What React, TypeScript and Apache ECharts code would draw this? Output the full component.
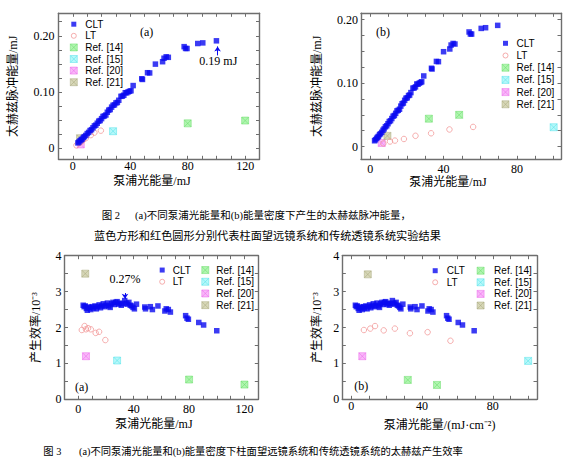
import React, { useEffect, useRef } from 'react';
import * as echarts from 'echarts';

// ---------- data ----------
// CLT: pump energy (mJ) for Fig.2(a)/3(a)
const cltEnergy = [3.5, 4.2, 5, 5.8, 6.5, 7.3, 8, 9, 10, 11, 12, 13, 14, 15, 16, 17, 18, 19, 20, 21, 22, 23, 24, 25, 26, 27, 28, 29, 30, 31, 32, 33.5, 34.5, 35.5, 36.5, 37.5, 38.5, 39.5, 40.5, 42, 48, 48.5, 52, 53.5, 57.5, 62.5, 63.5, 65, 66.5, 77.5, 78.5, 79.5, 87, 90.5, 100];
// CLT: pump energy density (mJ/cm^2) for Fig.2(b)/3(b)
const cltDensity = [2.4, 2.9, 3.5, 4.0, 4.5, 5.1, 5.6, 6.3, 7.0, 7.6, 8.3, 9.0, 9.7, 10.4, 11.1, 11.8, 12.5, 13.2, 13.9, 14.6, 15.3, 16.0, 16.7, 17.4, 18.1, 18.8, 19.5, 20.2, 20.9, 21.5, 22.2, 23.3, 24.0, 24.7, 25.4, 26.1, 26.8, 27.5, 28.1, 29.2, 33.4, 33.7, 36.1, 37.2, 40.0, 43.4, 44.1, 45.2, 46.2, 53.9, 54.6, 55.3, 60.5, 62.9, 69.5];
// CLT: THz pulse energy (mJ)
const cltTHz = [0.0092, 0.0108, 0.0130, 0.0147, 0.0161, 0.0188, 0.0204, 0.0225, 0.0258, 0.0279, 0.0312, 0.0328, 0.0361, 0.0395, 0.0408, 0.0442, 0.0479, 0.0490, 0.0524, 0.0563, 0.0572, 0.0589, 0.0638, 0.0675, 0.0686, 0.0729, 0.0762, 0.0769, 0.0804, 0.0812, 0.0851, 0.0921, 0.0925, 0.0941, 0.0986, 0.0983, 0.1001, 0.1011, 0.1021, 0.1113, 0.1234, 0.1222, 0.1342, 0.1338, 0.1495, 0.1538, 0.1600, 0.1625, 0.1616, 0.1806, 0.1774, 0.1773, 0.1862, 0.1873, 0.1910];
// CLT: efficiency (10^-3)
const cltEff = [2.62, 2.58, 2.6, 2.53, 2.48, 2.57, 2.55, 2.5, 2.58, 2.54, 2.6, 2.52, 2.58, 2.63, 2.55, 2.6, 2.66, 2.58, 2.62, 2.68, 2.6, 2.56, 2.66, 2.7, 2.64, 2.7, 2.72, 2.65, 2.68, 2.62, 2.66, 2.75, 2.68, 2.65, 2.7, 2.62, 2.6, 2.56, 2.52, 2.65, 2.57, 2.52, 2.58, 2.5, 2.6, 2.46, 2.52, 2.5, 2.43, 2.33, 2.26, 2.23, 2.14, 2.07, 1.91];

// LT
const ltEnergy = [2.5, 4.5, 5.5, 7, 9, 12.5, 15, 19.5];
const ltTHzA = [0.0048, 0.0092, 0.0107, 0.0139, 0.0176, 0.0231, 0.0275, 0.031];
const ltEffA = [1.93, 2.04, 1.95, 1.98, 1.95, 1.85, 1.88, 1.65];
const ltDensity = [7.2, 10.8, 13.5, 18.4, 24.7, 33.2, 43.2, 56.1];
const ltTHzB = [0.005, 0.008, 0.0095, 0.012, 0.017, 0.021, 0.027, 0.031];
const ltEffB = [1.93, 1.97, 2.04, 1.92, 1.97, 1.84, 1.87, 1.63];

// References
const ref14EnergyA = [80, 120];
const ref14THzA = [0.044, 0.049];
const ref14EffA = [0.55, 0.41];
const ref14DensityB = [32, 48.5];
const ref14THzB = [0.044, 0.05];
const ref14EffB = [0.54, 0.4];

const ref15EnergyA = [28];
const ref15THzA = [0.03];
const ref15EffA = [1.08];
const ref15DensityB = [100];
const ref15THzB = [0.0305];
const ref15EffB = [1.07];

const ref20EnergyA = [5.5];
const ref20THzA = [0.0065];
const ref20EffA = [1.2];
const ref20DensityB = [6.3];
const ref20THzB = [0.0058];
const ref20EffB = [1.2];

const ref21EnergyA = [5];
const ref21THzA = [0.0175];
const ref21EffA = [3.5];
const ref21DensityB = [9.4];
const ref21THzB = [0.0169];
const ref21EffB = [3.48];

// tick labels
const xTicksA = [0, 40, 80, 120];
const xTicksB = [0, 40, 80];
const yTicksEnergy = [0, 0.1, 0.2];
const yTicksEff = [0, 1, 2, 3, 4];

// ---------- styling ----------
const SERIF = "'Liberation Serif', 'Times New Roman', 'DejaVu Serif', serif";
const CJK = "'Liberation Serif', 'Noto Sans CJK SC', sans-serif";
const SANS = "'Liberation Sans', Arial, sans-serif";
const FRAME = '#6e6e6e';
const BLUE = '#0a0af0';
const PINK = '#f29a9a';

const REF_SYMBOL = 'path://M0,0H10V10H0ZM0,0L10,10M10,0L0,10';
const refStyles: Record<string, { color: string; borderColor: string }> = {
  'Ref. [14]': { color: '#9cf29c', borderColor: '#62dc62' },
  'Ref. [15]': { color: '#a4f6f9', borderColor: '#48dfe8' },
  'Ref. [20]': { color: '#f8a6f8', borderColor: '#ea5eea' },
  'Ref. [21]': { color: '#cdcda6', borderColor: '#a5a578' },
};

const pts = (xs: number[], ys: number[]) => xs.map((x, i) => [x, ys[i]]);
const near = (v: number, arr: number[]) => arr.find((a) => Math.abs(a - v) < 1e-7);

function axisPair(kind: 'x' | 'y', grid: number, o: any) {
  const common: any = {
    type: 'value',
    gridIndex: grid,
    min: o.min,
    max: o.max,
    minInterval: o.step,
    maxInterval: o.step,
    splitNumber: Math.round((o.max - o.min) / o.step),
    splitLine: { show: false },
    axisLine: { show: true, onZero: false, lineStyle: { color: FRAME, width: 1.4 } },
    axisTick: { show: true, inside: true, length: 3.5, lineStyle: { color: FRAME, width: 1 } },
  };
  const main = {
    ...common,
    position: kind === 'x' ? 'bottom' : 'left',
    name: o.name,
    nameLocation: 'middle',
    nameGap: o.nameGap,
    nameTextStyle: {
      fontFamily: CJK,
      fontSize: 12,
      color: '#000',
      padding: o.namePad || 0,
    },
    axisLabel: {
      show: true,
      margin: o.labelMargin,
      fontFamily: SERIF,
      fontSize: 12,
      color: '#000',
      formatter: (v: number) => {
        const t = near(v, o.ticks);
        if (t === undefined) return '';
        return o.fmt(t);
      },
    },
  };
  const mirror = {
    ...common,
    position: kind === 'x' ? 'top' : 'right',
    axisLabel: { show: false },
  };
  return [main, mirror];
}

const fmtInt = (v: number) => String(v);
const fmtEnergy = (v: number) => (v === 0 ? '0' : v.toFixed(2));

function seriesFor(g: number, d: any) {
  const base = { type: 'scatter', xAxisIndex: 2 * g, yAxisIndex: 2 * g };
  const refs = ['Ref. [14]', 'Ref. [15]', 'Ref. [20]', 'Ref. [21]'].map((n, i) => ({
    ...base,
    name: n,
    data: d.refs[i],
    symbol: REF_SYMBOL,
    symbolSize: 7,
    itemStyle: { ...refStyles[n], borderWidth: 0.6 },
    z: 2,
  }));
  return [
    ...refs,
    {
      ...base,
      name: 'LT',
      data: d.lt,
      symbol: 'circle',
      symbolSize: 5.5,
      itemStyle: { color: 'rgba(255,255,255,0)', borderColor: PINK, borderWidth: 1 },
      z: 3,
    },
    {
      ...base,
      name: 'CLT',
      data: d.clt,
      symbol: 'rect',
      symbolSize: 5.5,
      itemStyle: { color: BLUE },
      z: 4,
      ...(d.note
        ? {
            markLine: {
              silent: true,
              symbol: ['none', 'arrow'],
              symbolSize: 5,
              label: { show: false },
              lineStyle: { color: BLUE, width: 1, type: 'solid' },
              data: [[{ coord: d.note.from }, { coord: d.note.to }]],
            },
            markPoint: {
              silent: true,
              symbol: 'circle',
              symbolSize: 0,
              label: {
                show: true,
                position: 'inside',
                formatter: d.note.text,
                color: '#000',
                fontFamily: SERIF,
                fontSize: 12,
              },
              data: [{ coord: d.note.at }],
            },
          }
        : {}),
    },
  ];
}

const legendItems: Record<string, any> = {
  CLT: { name: 'CLT', icon: 'path://M0,0M7,7M1,1H6V6H1Z', itemStyle: { color: BLUE } },
  LT: {
    name: 'LT',
    icon: 'path://M0,0M7,7M1,3.5A2.5,2.5,0,1,0,6,3.5A2.5,2.5,0,1,0,1,3.5Z',
    itemStyle: { color: 'rgba(255,255,255,0)', borderColor: PINK, borderWidth: 1 },
  },
  ...Object.fromEntries(
    Object.keys(refStyles).map((n) => [
      n,
      { name: n, icon: 'path://M0,0H10V10H0ZM0,0L10,10M10,0L0,10', itemStyle: { ...refStyles[n], borderWidth: 0.6 } },
    ])
  ),
};

function legend(left: number, top: number, names: string[], lh: number, padLeft: number) {
  return {
    orient: 'vertical',
    left,
    top,
    padding: 0,
    itemGap: 0,
    itemWidth: 7,
    itemHeight: 7,
    selectedMode: false,
    textStyle: { fontFamily: SANS, fontSize: 10, color: '#000', lineHeight: lh, padding: [0, 0, 0, padLeft] },
    data: names.map((n) => legendItems[n]),
  };
}

const ALL = ['CLT', 'LT', 'Ref. [14]', 'Ref. [15]', 'Ref. [20]', 'Ref. [21]'];
const REFS = ['Ref. [14]', 'Ref. [15]', 'Ref. [20]', 'Ref. [21]'];

function buildOption() {
  const grids = [
    { left: 58.5, top: 13.3, width: 201, height: 146 },
    { left: 361, top: 13.3, width: 200, height: 146 },
    { left: 64.5, top: 255.7, width: 193.8, height: 143.6 },
    { left: 342.3, top: 255.7, width: 194.7, height: 143.6 },
  ];
  const xAxes = [
    ...axisPair('x', 0, { min: -10, max: 130, step: 10, ticks: xTicksA, fmt: fmtInt, name: '泵浦光能量/mJ', nameGap: 16, namePad: [0, 14, 0, 0], labelMargin: 1 }),
    ...axisPair('x', 1, { min: -5, max: 104, step: 10, ticks: xTicksB, fmt: fmtInt, name: '泵浦光能量/mJ', nameGap: 17, namePad: [0, 26, 0, 0], labelMargin: 3.5 }),
    ...axisPair('x', 2, { min: -10, max: 130, step: 10, ticks: xTicksA, fmt: fmtInt, name: '泵浦光能量/mJ', nameGap: 18.5, namePad: [0, 15, 0, 0], labelMargin: 4 }),
    ...axisPair('x', 3, { min: -5, max: 105, step: 10, ticks: xTicksB, fmt: fmtInt, name: '泵浦光能量/(mJ·cm⁻²)', nameGap: 19.5, namePad: 0, labelMargin: 0.5 }),
  ];
  const yAxes = [
    ...axisPair('y', 0, { min: -0.02, max: 0.24, step: 0.025, ticks: yTicksEnergy, fmt: fmtEnergy, name: '太赫兹脉冲能量/mJ', nameGap: 40, labelMargin: 4 }),
    ...axisPair('y', 1, { min: -0.02, max: 0.21, step: 0.025, ticks: yTicksEnergy, fmt: fmtEnergy, name: '太赫兹脉冲能量/mJ', nameGap: 38, labelMargin: 3 }),
    ...axisPair('y', 2, { min: 0, max: 4, step: 0.5, ticks: yTicksEff, fmt: fmtInt, name: '产生效率/10⁻³', nameGap: 22.5, labelMargin: 3 }),
    ...axisPair('y', 3, { min: 0, max: 4, step: 0.5, ticks: yTicksEff, fmt: fmtInt, name: '产生效率/10⁻³', nameGap: 19.5, labelMargin: 3 }),
  ];

  const series = [
    ...seriesFor(0, {
      clt: pts(cltEnergy, cltTHz),
      lt: pts(ltEnergy, ltTHzA),
      refs: [pts(ref14EnergyA, ref14THzA), pts(ref15EnergyA, ref15THzA), pts(ref20EnergyA, ref20THzA), pts(ref21EnergyA, ref21THzA)],
      note: { from: [100.8, 0.165], to: [100.8, 0.181], at: [101.3, 0.1545], text: '0.19 mJ' },
    }),
    ...seriesFor(1, {
      clt: pts(cltDensity, cltTHz),
      lt: pts(ltDensity, ltTHzB),
      refs: [pts(ref14DensityB, ref14THzB), pts(ref15DensityB, ref15THzB), pts(ref20DensityB, ref20THzB), pts(ref21DensityB, ref21THzB)],
    }),
    ...seriesFor(2, {
      clt: pts(cltEnergy, cltEff),
      lt: pts(ltEnergy, ltEffA),
      refs: [pts(ref14EnergyA, ref14EffA), pts(ref15EnergyA, ref15EffA), pts(ref20EnergyA, ref20EffA), pts(ref21EnergyA, ref21EffA)],
      note: { from: [33.7, 2.96], to: [33.7, 2.8], at: [33.7, 3.35], text: '0.27%' },
    }),
    ...seriesFor(3, {
      clt: pts(cltDensity, cltEff),
      lt: pts(ltDensity, ltEffB),
      refs: [pts(ref14DensityB, ref14EffB), pts(ref15DensityB, ref15EffB), pts(ref20DensityB, ref20EffB), pts(ref21DensityB, ref21EffB)],
    }),
  ];

  const legends = [
    legend(69.8, 18.4, ALL, 11.6, 3),
    legend(501.5, 37.2, ALL, 12.2, 2.5),
    legend(158.2, 264.2, ['CLT', 'LT'], 11.7, 2),
    legend(201.5, 264.2, REFS, 11.7, 2.5),
    legend(431.2, 264.9, ['CLT', 'LT'], 11.6, 3),
    legend(476.8, 264.9, REFS, 11.6, 5),
  ];

  const txt = (x: number, y: number, text: string, size: number, font: string, align = 'left') => ({
    type: 'text',
    x,
    y,
    silent: true,
    style: { text, fontSize: size, fontFamily: font, fill: '#000', textAlign: align, textVerticalAlign: 'middle' },
  });

  const graphic = [
    txt(146.7, 31.7, '(a)', 12, SERIF, 'center'),
    txt(383, 31.7, '(b)', 12, SERIF, 'center'),
    txt(81.7, 386.7, '(a)', 12, SERIF, 'center'),
    txt(361.3, 386, '(b)', 12, SERIF, 'center'),
    txt(101.7, 215, '图 2', 10.5, CJK),
    txt(135, 215, '(a)不同泵浦光能量和(b)能量密度下产生的太赫兹脉冲能量，', 10.5, CJK),
    txt(94, 235.7, '蓝色方形和红色圆形分别代表柱面望远镜系统和传统透镜系统实验结果', 11.2, CJK),
    txt(43.3, 451, '图 3', 10.3, CJK),
    txt(79, 451, '(a)不同泵浦光能量和(b)能量密度下柱面望远镜系统和传统透镜系统的太赫兹产生效率', 10.3, CJK),
  ];

  return {
    animation: false,
    backgroundColor: '#ffffff',
    grid: grids,
    xAxis: xAxes,
    yAxis: yAxes,
    legend: legends,
    series,
    graphic,
  };
}

export default function App() {
  const ref = useRef<HTMLDivElement>(null);
  useEffect(() => {
    if (!ref.current) return;
    const chart = echarts.init(ref.current, null, { renderer: 'svg' });
    chart.setOption(buildOption() as any);
    return () => chart.dispose();
  }, []);
  return (
    <div
      ref={ref}
      style={{ position: 'fixed', left: 0, top: 0, width: 573, height: 465, background: '#fff' }}
    />
  );
}
